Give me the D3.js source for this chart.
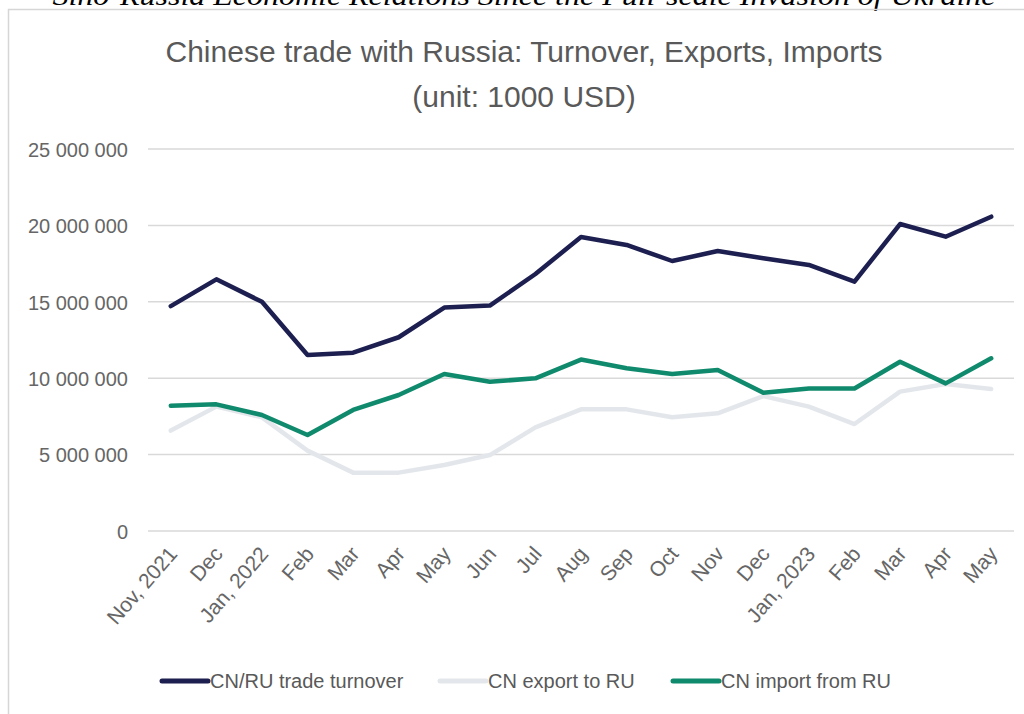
<!DOCTYPE html>
<html>
<head>
<meta charset="utf-8">
<script src="https://cdn.jsdelivr.net/npm/d3@7"></script>
<style>
  html, body { margin: 0; padding: 0; background: #fff; }
  svg { display: block; }
</style>
</head>
<body>
<svg id="chart" width="1024" height="714"></svg>
<script>
const categories = ["Nov, 2021","Dec","Jan, 2022","Feb","Mar","Apr","May","Jun","Jul","Aug","Sep","Oct","Nov","Dec ","Jan, 2023","Feb ","Mar ","Apr ","May "];
const turnover = [14.72,16.47,15.0,11.52,11.67,12.68,14.62,14.75,16.82,19.24,18.72,17.67,18.32,17.85,17.41,16.32,20.09,19.26,20.57].map(v => v*1e6);
const exportsRU = [6.57,8.14,7.44,5.26,3.82,3.82,4.32,4.97,6.78,7.96,7.96,7.44,7.7,8.83,8.14,7.0,9.12,9.62,9.29].map(v => v*1e6);
const importsRU = [8.2,8.29,7.59,6.28,7.92,8.9,10.27,9.77,9.99,11.22,10.65,10.27,10.54,9.05,9.33,9.33,11.08,9.66,11.3].map(v => v*1e6);
const yTicks = [0,5e6,10e6,15e6,20e6,25e6];
const seriesNames = ["CN/RU trade turnover","CN export to RU","CN import from RU"];
const seriesColors = ["#1c1f4f","#e3e7ec","#108a6c"];

const svg = d3.select("#chart");
const font = "'Liberation Sans', Arial, Helvetica, sans-serif";

// top caption (cut off by the page edge, as in the source)
svg.append("text")
  .attr("x", 524).attr("y", 5)
  .attr("text-anchor", "middle")
  .attr("font-family", "'Liberation Serif', 'Times New Roman', serif")
  .attr("font-style", "italic")
  .attr("font-size", 28)
  .attr("fill", "#000")
  .attr("textLength", 943)
  .attr("lengthAdjust", "spacingAndGlyphs")
  .text("Sino-Russia Economic Relations Since the Full-scale Invasion of Ukraine");

// chart border
svg.append("rect")
  .attr("x", 8.5).attr("y", 9.5).attr("width", 1030).attr("height", 720)
  .attr("fill", "none").attr("stroke", "#d6d6d6").attr("stroke-width", 1.5);

// title
const title = svg.append("text")
  .attr("text-anchor", "middle")
  .attr("font-family", font)
  .attr("font-size", 30)
  .attr("fill", "#595959");
title.append("tspan").attr("x", 524).attr("y", 62).text("Chinese trade with Russia: Turnover, Exports, Imports");
title.append("tspan").attr("x", 524).attr("y", 107).text("(unit: 1000 USD)");

const x = d3.scalePoint().domain(categories).range([148, 1014]).padding(0.5);
const y = d3.scaleLinear().domain([0, 25e6]).range([531, 149]);

// gridlines
svg.append("g").selectAll("line").data(yTicks).join("line")
  .attr("x1", 148).attr("x2", 1014)
  .attr("y1", d => y(d)).attr("y2", d => y(d))
  .attr("stroke", "#d9d9d9").attr("stroke-width", 1.5);

// y axis labels
const yAxis = d3.axisLeft(y).tickValues(yTicks).tickSize(0).tickPadding(0)
  .tickFormat(d => d3.format(",")(d).replace(/,/g, " "));
const gy = svg.append("g").attr("transform", "translate(128,0)").call(yAxis);
gy.select(".domain").remove();
gy.selectAll("text")
  .attr("font-family", font).attr("font-size", 20).attr("fill", "#666")
  .attr("dy", "0.36em");

// x axis labels
const xAxis = d3.axisBottom(x).tickSize(0).tickPadding(0);
const gx = svg.append("g").call(xAxis);
gx.select(".domain").remove();
gx.selectAll(".tick").attr("transform", d => `translate(${x(d)},552)`);
gx.selectAll("text")
  .attr("font-family", font).attr("font-size", 21).attr("fill", "#666")
  .attr("text-anchor", "end")
  .attr("x", 3).attr("y", 0).attr("dy", "0.35em")
  .attr("transform", "rotate(-49)")
  .text(d => d.trim());

// lines
const line = d3.line().x((d, i) => x(categories[i])).y(d => y(d));
const data = [exportsRU, importsRU, turnover];
const cols = [seriesColors[1], seriesColors[2], seriesColors[0]];
svg.append("g").selectAll("path").data(data).join("path")
  .attr("d", d => line(d))
  .attr("fill", "none")
  .attr("stroke", (d, i) => cols[i])
  .attr("stroke-width", 4.5)
  .attr("stroke-linejoin", "round")
  .attr("stroke-linecap", "round");

// legend
const legendX = [162, 440, 673];
const lg = svg.append("g").selectAll("g").data(seriesNames).join("g")
  .attr("transform", (d, i) => `translate(${legendX[i]},681)`);
lg.append("line").attr("x1", 0).attr("x2", 46).attr("y1", 0).attr("y2", 0)
  .attr("stroke", (d, i) => seriesColors[i]).attr("stroke-width", 5).attr("stroke-linecap", "round");
lg.append("text").attr("x", 48).attr("y", 0).attr("dy", "0.36em")
  .attr("font-family", font).attr("font-size", 20).attr("fill", "#595959")
  .text(d => d);
</script>
</body>
</html>
